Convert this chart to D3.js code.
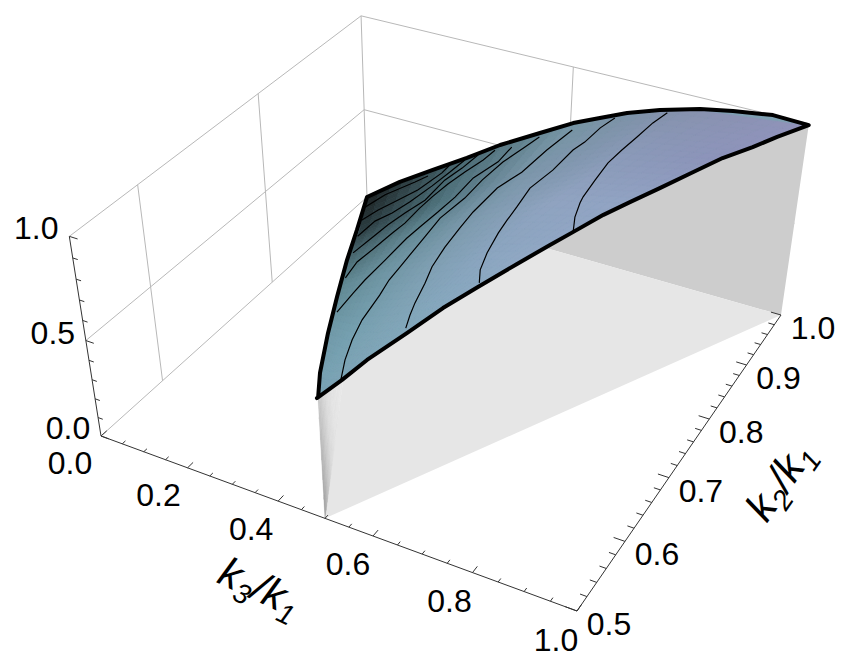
<!DOCTYPE html>
<html>

<head>
    <meta charset="utf-8">
    <title>shape surface</title>
    <script src="https://cdnjs.cloudflare.com/ajax/libs/d3/7.8.5/d3.min.js"></script>
    <style>
        body { margin: 0; background: #fff; }
        text { font-family: "Liberation Sans", sans-serif; fill: #000; }
    </style>
</head>

<body>
    <svg id="chart" width="843" height="662"></svg>

    <script type="text/javascript">
        /* ticks */
        var k3Labels = [0, 0.2, 0.4, 0.6, 0.8, 1];
        var k2Labels = [0.5, 0.6, 0.7, 0.8, 0.9, 1];
        var zLabels = [0, 0.5, 1];
        var k3Minor = d3.range(0, 1.001, 0.05);
        var k2Minor = d3.range(0.5, 1.001, 0.02);
        var zMinor = d3.range(0, 1.001, 0.1);

        /* edges of the surface, [position along edge, z] */
        var backEdge = [[0, 0], [.088, .144], [.173, .265], [.258, .384], [.338, .503], [.431, .622], [.506, .718], [.565, .778], [.624, .837], [.694, .892], [.778, .945], [.846, .974], [.927, 1], [1, .993]];
        var frontEdge = [[.499, .613], [.522, .650], [.545, .696], [.582, .747], [.616, .797], [.649, .831], [.687, .867], [.720, .896], [.743, .915], [.774, .941], [.802, .953], [.833, .965], [.869, .981], [.901, .994], [.935, .991], [.963, .995], [1, .993]];
        var leftEdge = [[0, 0], [.125, .193], [.234, .373], [.332, .505], [.412, .602], [.479, .652], [.499, .613]];

        /* contours, [k3, k2] at each level */
        var contourLevels = [.05, .1, .2, .3, .4, .5, .6, .7, .8, .9];
        var contour0 = [[.038, .964], [.051, .998], [.083, 1.039], [.096, 1.058]];
        var contour1 = [[.079, .923], [.089, .950], [.107, .979], [.125, 1.009], [.136, 1.055], [.135, 1.075]];
        var contour2 = [[.142, .862], [.144, .897], [.160, .920], [.171, .949], [.181, .991], [.187, 1.027], [.191, 1.059]];
        var contour3 = [[.204, .802], [.209, .836], [.213, .866], [.221, .895], [.233, .928], [.230, .975], [.239, 1.007], [.243, 1.041]];
        var contour4 = [[.274, .730], [.265, .760], [.269, .786], [.273, .823], [.277, .846], [.275, .879], [.276, .905], [.280, .936], [.288, .967], [.299, .999], [.302, 1.024]];
        var contour5 = [[.356, .648], [.350, .683], [.347, .707], [.346, .747], [.344, .791], [.347, .820], [.351, .849], [.354, .883], [.351, .926], [.366, .968], [.363, 1.003]];
        var contour6 = [[.504, .534], [.480, .561], [.460, .590], [.444, .621], [.432, .663], [.422, .689], [.418, .713], [.409, .764], [.401, .808], [.408, .853], [.406, .893], [.410, .935], [.422, .974], [.430, 1]];
        var contour7 = [[.558, .601], [.545, .620], [.534, .639], [.519, .671], [.504, .698], [.493, .733], [.486, .769], [.481, .801], [.481, .852], [.496, .891], [.501, .943], [.511, .993]];
        var contour8 = [[.636, .665], [.618, .684], [.603, .712], [.590, .747], [.584, .771], [.579, .796], [.570, .833], [.579, .874], [.580, .919], [.587, .939], [.590, .973], [.599, .999]];
        var contour9 = [[.739, .748], [.720, .772], [.707, .797], [.703, .808], [.697, .841], [.692, .876], [.695, .905], [.700, .935], [.705, .969], [.714, .995]];
        var contourLines = [contour0, contour1, contour2, contour3, contour4, contour5, contour6, contour7, contour8, contour9];

        /* surface mesh: k2 rows, t runs from k3 = 1-k2 to k3 = k2 */
        var meshK2 = [.5, .6, .7, .8, .9, 1];
        var meshT = [0, .25, .5, .75, 1];
        var meshZ = [
            [.62, .62, .62, .62, .62],
            [.60, .60, .64, .70, .77],
            [.46, .60, .70, .80, .87],
            [.30, .50, .70, .87, .95],
            [.11, .40, .70, .90, .99],
            [0, .38, .72, .93, .99]
        ];
        var meshColours = [
            ["#7ca5b6", "#7ca5b6", "#7ca5b6", "#7ca5b6", "#7ca5b6"],
            ["#6f98a6", "#76a0b0", "#7ea4b5", "#82a7ba", "#86aabf"],
            ["#5f8791", "#6f95a3", "#7f9fb2", "#8aa5bf", "#92a9c5"],
            ["#456269", "#658a96", "#7f9baf", "#90a3c0", "#92a4c4"],
            ["#2a3a3e", "#4f727c", "#7a95a8", "#8a9ab8", "#8d93ba"],
            ["#1a1f1f", "#486770", "#7494a2", "#8691ad", "#9193bb"]
        ];

        /* side wall along k2+k3=1: gray by k3 (rows) and height fraction (cols) */
        var wallK3 = [.5, .47, .44, .40, .34, .2, 0];
        var wallGrays = [[150, 200], [190, 214], [214, 224], [226, 228], [230, 230], [230, 230], [230, 230]];

        var gridGray = "#b8b8b8", axisColor = "#333";

        /* where the plot box lands on the page: the view of the box */
        var boxOrigin = [101, 436], boxK3 = [577, 611], boxK3K2 = [781, 315], boxK2 = [367, 197];
        var boxTop = [[[68, 236], [0, 0, 1]], [[363, 15], [0, 1, 1]], [[808, 125], [1, 1, 1]]];

        function solve3(M, r) {
            var a = M.map(function (row, i) { return row.concat([r[i]]); });
            for (var i = 0; i < 3; i++) {
                var p = i;
                for (var j = i + 1; j < 3; j++) if (Math.abs(a[j][i]) > Math.abs(a[p][i])) p = j;
                var t = a[i]; a[i] = a[p]; a[p] = t;
                for (var j = 0; j < 3; j++) if (j != i) {
                    var f = a[j][i] / a[i][i];
                    for (var k = i; k < 4; k++) a[j][k] -= f * a[i][k];
                }
            }
            return [a[0][3] / a[0][0], a[1][3] / a[1][1], a[2][3] / a[2][2]];
        }

        var h0 = boxOrigin.concat(1), hU = boxK3.concat(1), hUV = boxK3K2.concat(1), hV = boxK2.concat(1);
        var sc = solve3([[hU[0], hV[0], -hUV[0]], [hU[1], hV[1], -hUV[1]], [1, 1, -1]], h0);
        var c1 = hU.map(function (d, i) { return d * sc[0] - h0[i]; });
        var c2 = hV.map(function (d, i) { return d * sc[1] - h0[i]; });

        // least squares for the vertical column from the three top corners
        var N = [[0, 0, 0], [0, 0, 0], [0, 0, 0]], R = [0, 0, 0];
        boxTop.forEach(function (o) {
            var p = o[0], b = h0.map(function (d, i) { return d + o[1][0] * c1[i] + o[1][1] * c2[i]; });
            [[[1, 0, -p[0]], p[0] * b[2] - b[0]], [[0, 1, -p[1]], p[1] * b[2] - b[1]]].forEach(function (e) {
                for (var i = 0; i < 3; i++) {
                    R[i] += e[0][i] * e[1];
                    for (var j = 0; j < 3; j++) N[i][j] += e[0][i] * e[0][j];
                }
            });
        });
        var c3 = solve3(N, R);

        var xU = d3.scaleLinear().domain([0, 1]).range([0, 1]);
        var xV = d3.scaleLinear().domain([.5, 1]).range([0, 1]);
        var xW = d3.scaleLinear().domain([0, 1]).range([0, 1]);

        function project(d) {
            var u = xU(d[0]), v = xV(d[1]), w = xW(d[2]);
            var q = h0.map(function (h, i) { return h + u * c1[i] + v * c2[i] + w * c3[i]; });
            return [q[0] / q[2], q[1] / q[2]];
        }

        var svg = d3.select("#chart");
        var line = d3.line().x(function (d) { return project(d)[0]; }).y(function (d) { return project(d)[1]; });

        function seg(g, a, b, color) {
            g.append("path").attr("d", line([a, b])).attr("fill", "none").attr("stroke", color).attr("stroke-width", 1);
        }

        /* face grids and box */
        var grid = svg.append("g");
        [[[0, .5, 1], [0, 1, 1]], [[0, 1, 1], [1, 1, 1]], [[0, 1, 0], [0, 1, 1]], [[0, .5, 0], [0, 1, 0]],
        [[0, .5, .5], [0, 1, .5]], [[0, 1, .5], [1, 1, .5]], [[.5, 1, 0], [.5, 1, 1]],
        [[0, .6, 0], [0, .6, 1]], [[0, .8, 0], [0, .8, 1]]].forEach(function (s) { seg(grid, s[0], s[1], gridGray); });

        /* back wall, floor */
        var backFloor = backEdge.map(function (d) { return [d[0], 1, d[1]]; }).concat([[1, 1, 0], [0, 1, 0]]);
        svg.append("path").attr("d", line(backFloor) + "Z").attr("fill", "#cdcdcd");
        svg.append("path").attr("d", line([[0, 1, 0], [.5, .5, 0], [1, 1, 0]]) + "Z").attr("fill", "#e6e6e6");

        /* side wall strips */
        var leftZ = d3.scaleLinear().domain(leftEdge.map(function (d) { return d[0]; })).range(leftEdge.map(function (d) { return d[1]; }));
        var wall = svg.append("g");
        var sub = 6;
        d3.range(wallK3.length - 1).forEach(function (i) {
            d3.range(sub).forEach(function (n) {
                var a = wallK3[i] + (wallK3[i + 1] - wallK3[i]) * n / sub;
                var b = wallK3[i] + (wallK3[i + 1] - wallK3[i]) * (n + 1) / sub;
                d3.range(sub).forEach(function (m) {
                    var f0 = m / sub, f1 = (m + 1) / sub, fm = (f0 + f1) / 2, am = (n + .5) / sub;
                    var g0 = wallGrays[i][0] + (wallGrays[i][1] - wallGrays[i][0]) * fm;
                    var g1 = wallGrays[i + 1][0] + (wallGrays[i + 1][1] - wallGrays[i + 1][0]) * fm;
                    var g = Math.round(g0 + (g1 - g0) * am);
                    var c = d3.rgb(g, g, g);
                    wall.append("path")
                        .attr("d", line([[a, 1 - a, leftZ(a) * f0], [b, 1 - b, leftZ(b) * f0], [b, 1 - b, leftZ(b) * f1], [a, 1 - a, leftZ(a) * f1]]) + "Z")
                        .attr("fill", c).attr("stroke", c).attr("stroke-width", .4);
                });
            });
        });

        /* surface */
        var outline = leftEdge.map(function (d) { return [d[0], 1 - d[0], d[1]]; }).reverse()
            .concat(backEdge.map(function (d) { return [d[0], 1, d[1]]; }))
            .concat(frontEdge.map(function (d) { return [d[0], d[0], d[1]]; }).reverse());

        svg.append("clipPath").attr("id", "surf").append("path").attr("d", line(outline) + "Z");
        var surf = svg.append("g").attr("clip-path", "url(#surf)");
        surf.append("path").attr("d", line(outline) + "Z").attr("fill", "#7f9fb2");

        function mix(a, b, f) { return a + (b - a) * f; }
        var rgbs = meshColours.map(function (r) { return r.map(function (c) { return d3.rgb(c); }); });
        function meshNode(r, c, fr, fc) {
            var k2 = mix(meshK2[r], meshK2[r + 1], fr), t = mix(meshT[c], meshT[c + 1], fc);
            var z = mix(mix(meshZ[r][c], meshZ[r][c + 1], fc), mix(meshZ[r + 1][c], meshZ[r + 1][c + 1], fc), fr);
            return [(1 - k2) + t * (2 * k2 - 1), k2, z];
        }
        function meshColor(r, c, fr, fc) {
            function ch(n) {
                return mix(mix(rgbs[r][c][n], rgbs[r][c + 1][n], fc), mix(rgbs[r + 1][c][n], rgbs[r + 1][c + 1][n], fc), fr);
            }
            return d3.rgb(ch("r"), ch("g"), ch("b"));
        }
        var div = 8;
        d3.range(meshK2.length - 1).forEach(function (r) {
            d3.range(meshT.length - 1).forEach(function (c) {
                d3.range(div).forEach(function (i) {
                    d3.range(div).forEach(function (j) {
                        var col = meshColor(r, c, (i + .5) / div, (j + .5) / div);
                        surf.append("path")
                            .attr("d", line([meshNode(r, c, i / div, j / div), meshNode(r, c, i / div, (j + 1) / div),
                                meshNode(r, c, (i + 1) / div, (j + 1) / div), meshNode(r, c, (i + 1) / div, j / div)]) + "Z")
                            .attr("fill", col).attr("stroke", col).attr("stroke-width", .6);
                    });
                });
            });
        });

        /* contours */
        contourLines.forEach(function (pts, i) {
            surf.append("path")
                .attr("d", line(pts.map(function (d) { return [d[0], d[1], contourLevels[i]]; })))
                .attr("fill", "none").attr("stroke", "#000").attr("stroke-width", 1.2);
        });

        svg.append("path").attr("d", line(outline) + "Z")
            .attr("fill", "none").attr("stroke", "#000").attr("stroke-width", 4).attr("stroke-linejoin", "round");

        /* axes */
        var axes = svg.append("g");
        seg(axes, [0, .5, 0], [1, .5, 0], axisColor);
        seg(axes, [1, .5, 0], [1, 1, 0], axisColor);
        seg(axes, [0, .5, 0], [0, .5, 1], axisColor);

        function isMajor(list, v) { return list.some(function (m) { return Math.abs(m - v) < 1e-6; }); }
        k3Minor.forEach(function (v) {
            seg(axes, [v, .5, 0], [v, .5 + (isMajor(k3Labels, v) ? .009 : .005), 0], axisColor);
        });
        k2Minor.forEach(function (v) {
            seg(axes, [1, v, 0], [1 - (isMajor(k2Labels, v) ? .022 : .013), v, 0], axisColor);
        });
        zMinor.forEach(function (v) {
            seg(axes, [0, .5, v], [isMajor(zLabels, v) ? .018 : .011, .5, v], axisColor);
        });

        function tickLabel(v, p, dx, dy) {
            svg.append("text").attr("x", p[0] + dx).attr("y", p[1] + dy).attr("text-anchor", "middle")
                .attr("dominant-baseline", "central").attr("font-size", 32).text(d3.format(".1f")(v));
        }
        var k3Dx = d3.scaleLinear().domain([0, 1]).range([-31, -21]), k3Dy = d3.scaleLinear().domain([0, 1]).range([27, 29]);
        k3Labels.forEach(function (v) { tickLabel(v, project([v, .5, 0]), k3Dx(v), k3Dy(v)); });
        k2Labels.forEach(function (v) { tickLabel(v, project([1, v, 0]), 32, 13); });
        zLabels.forEach(function (v) { tickLabel(v, project([0, .5, v]), -33, -8); });

        function axisTitle(x, y, rot, sub1, sub2) {
            var t = svg.append("text").attr("transform", "translate(" + x + "," + y + ") rotate(" + rot + ")")
                .attr("text-anchor", "middle").attr("font-size", 42).attr("font-style", "italic");
            t.append("tspan").text("k");
            t.append("tspan").attr("font-size", 28).attr("dy", 9).text(sub1);
            t.append("tspan").attr("dy", -9).text("/k");
            t.append("tspan").attr("font-size", 28).attr("dy", 9).text(sub2);
        }
        axisTitle(254, 600, 25, "3", "1");
        axisTitle(791, 489, -55, "2", "1");
    </script>
</body>

</html>
